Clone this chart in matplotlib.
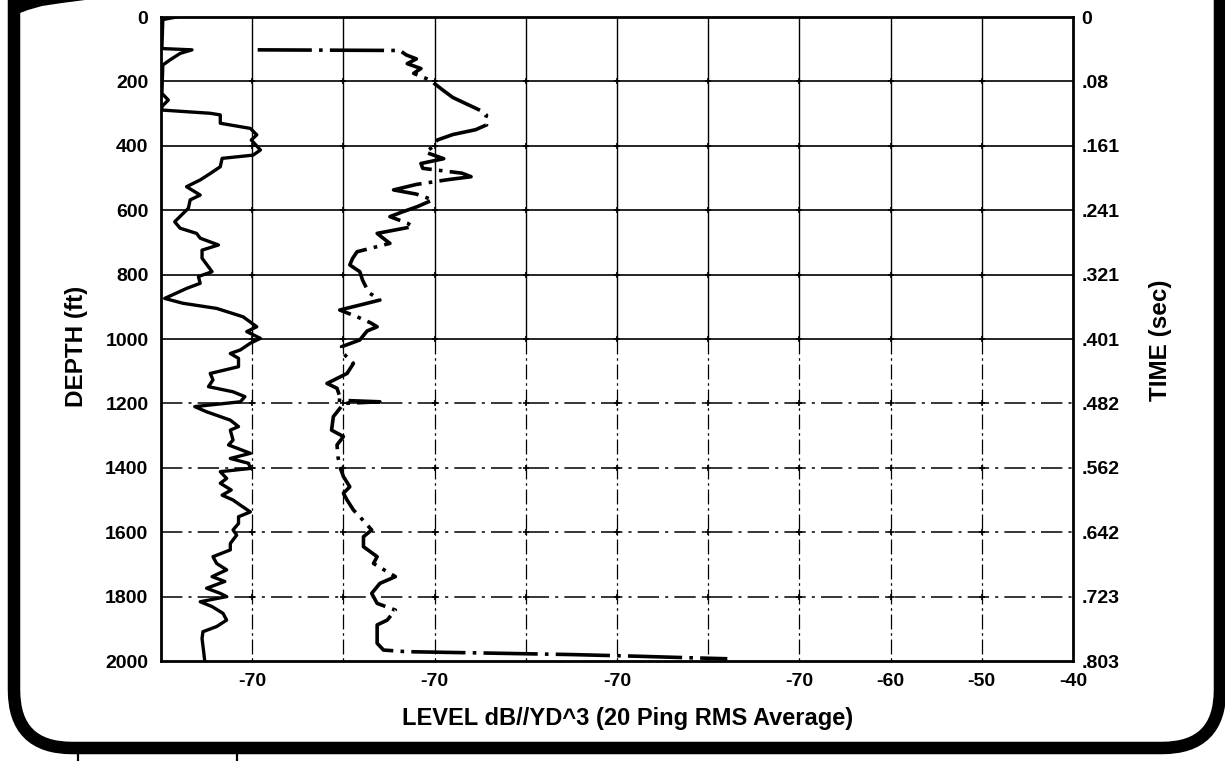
import matplotlib.pyplot as plt
from matplotlib.patches import FancyBboxPatch
import numpy as np

plt.rcParams['font.family'] = ['Liberation Sans', 'DejaVu Sans']
plt.rcParams['font.weight'] = 'bold'

# solid trace (depth ft, level)
solid_depth = [0, 8, 98, 102, 113, 133, 149, 237, 258, 278, 289, 299, 304, 330, 346, 366,
               382, 413, 429, 439, 465, 486, 506, 527, 553, 568, 594, 636, 656, 672, 687,
               708, 724, 749, 791, 806, 827, 843, 874, 889, 905, 931, 962, 977, 998, 1013,
               1034, 1045, 1060, 1086, 1107, 1127, 1148, 1164, 1179, 1195, 1210, 1226, 1252,
               1272, 1283, 1314, 1329, 1355, 1371, 1386, 1402, 1412, 1433, 1448, 1469, 1485,
               1500, 1516, 1537, 1552, 1573, 1593, 1609, 1635, 1655, 1676, 1697, 1717, 1738,
               1753, 1774, 1790, 1800, 1816, 1831, 1852, 1873, 1893, 1909, 1930, 2000]
solid_level = [-138.3, -139.8, -139.9, -136.6, -137.9, -139.0, -139.8, -139.9, -139.2, -139.9,
               -139.9, -134.6, -133.5, -133.5, -130.2, -129.5, -130.1, -129.1, -129.9, -133.3,
               -133.5, -134.6, -135.7, -137.2, -135.7, -136.8, -137.0, -138.5, -137.9, -136.1,
               -135.7, -133.7, -135.5, -135.5, -134.4, -135.9, -135.7, -137.2, -139.6, -137.6,
               -133.9, -131.0, -129.5, -130.6, -129.1, -130.2, -131.3, -132.4, -131.5, -131.5,
               -134.6, -134.3, -134.8, -132.1, -130.8, -131.3, -136.3, -135.0, -132.4, -131.5,
               -132.4, -132.1, -132.6, -130.2, -132.4, -130.4, -130.2, -133.5, -132.8, -133.5,
               -132.3, -133.3, -132.1, -131.3, -130.2, -131.5, -131.5, -132.1, -131.7, -132.4,
               -132.4, -134.3, -133.9, -132.8, -134.4, -133.0, -135.0, -133.5, -132.8, -135.7,
               -134.4, -133.2, -132.8, -133.9, -135.4, -135.5, -135.2]

# dash-dot trace
dash_depth = [102, 104, 118, 130, 145, 160, 175, 196, 227, 250, 270, 290, 305, 320, 335, 350,
              365, 382, 403, 420, 440, 455, 470, 485, 496, 505, 520, 537, 550, 568, 589, 605,
              620, 640, 651, 672, 690, 703, 729, 750, 770, 791, 817, 840, 858, 879, 889, 910,
              931, 950, 962, 975, 1003, 1024, 1045, 1076, 1107, 1138, 1153, 1179, 1190, 1195,
              1200, 1216, 1241, 1283, 1303, 1329, 1365, 1396, 1427, 1459, 1479, 1500, 1531,
              1552, 1593, 1614, 1645, 1676, 1697, 1738, 1759, 1790, 1821, 1842, 1873, 1888,
              1945, 1966, 1971, 1975, 1980, 1985, 1990, 1993]
dash_level = [-129.4, -113.8, -113.1, -112.0, -113.0, -111.5, -112.3, -110.5, -109.1, -108.0,
              -106.5, -105.0, -104.3, -104.5, -104.3, -105.5, -108.0, -109.7, -110.2, -111.0,
              -109.0, -111.5, -111.3, -107.0, -106.0, -108.5, -112.0, -114.5, -112.0, -110.2,
              -111.9, -113.5, -114.9, -113.0, -112.4, -116.3, -115.5, -114.9, -118.5, -119.0,
              -119.3, -118.2, -117.9, -117.5, -117.1, -116.0, -117.4, -120.4, -118.5, -117.0,
              -116.3, -117.4, -118.2, -120.2, -120.0, -118.9, -119.6, -121.8, -120.7, -120.4,
              -120.7, -116.0, -120.0, -120.4, -121.1, -121.3, -120.0, -120.7, -120.6, -120.4,
              -120.0, -119.3, -120.0, -119.6, -118.9, -118.2, -116.9, -117.8, -117.8, -116.3,
              -116.7, -114.3, -116.0, -116.9, -116.3, -114.3, -115.2, -116.3, -116.3, -115.6,
              -113.1, -105.0, -95.0, -88.0, -82.0, -77.9]

x_ticks = [-130, -110, -90, -70, -60, -50, -40]
x_labels = ['-70', '-70', '-70', '-70', '-60', '-50', '-40']
depth_ticks = [0, 200, 400, 600, 800, 1000, 1200, 1400, 1600, 1800, 2000]
time_labels = ['0', '.08', '.161', '.241', '.321', '.401', '.482', '.562', '.642', '.723', '.803']

W, H = 1225, 761
fig = plt.figure(figsize=(W / 100, H / 100), dpi=100)

# page frame (scanned document border)
bg = fig.add_axes([0, 0, 1, 1], zorder=0)
bg.set_xlim(0, W)
bg.set_ylim(H, 0)
bg.axis('off')
bg.add_patch(FancyBboxPatch((14, -120), 1206, 868, boxstyle='round,pad=0,rounding_size=58',
                            fill=False, lw=9, ec='black'))
bg.fill([8, 85, 62, 42, 28, 20, 8], [0, 0, 3, 6, 10, 13, 13], color='black', lw=0)
bg.plot([78, 78], [754, 761], color='black', lw=1.6)
bg.plot([237, 237], [754, 761], color='black', lw=1.6)

ax = fig.add_axes([161 / W, 1 - 661 / H, 912 / W, 644 / H], zorder=1)
ax.patch.set_alpha(0)
ax.set_xlim(-140, -40)
ax.set_ylim(2000, 0)

# grid
for gx in np.arange(-130, -40, 10):
    ax.plot([gx, gx], [0, 1000], color='black', lw=1.0, zorder=1)
    ax.plot([gx, gx], [1000, 2000], color='black', lw=0.9, ls=(0, (12, 3, 2, 3)), zorder=1)
for gy in depth_ticks[1:-1]:
    if gy <= 1000:
        ax.axhline(gy, color='black', lw=1.2, zorder=1)
    else:
        ax.axhline(gy, color='black', lw=1.1, ls=(0, (14, 4, 2, 4)), zorder=1)
gx, gy = np.meshgrid(np.arange(-130, -40, 10), depth_ticks[1:-1])
ax.plot(gx.ravel(), gy.ravel(), '+', color='black', ms=5, mew=1.2, zorder=1)

ax.plot(solid_level, solid_depth, color='black', lw=2.4, zorder=3)
ax.plot(dash_level, dash_depth, color='black', lw=2.6, ls=(0, (15, 2, 1, 2)), zorder=3)

for s in ax.spines.values():
    s.set_linewidth(2.0)
ax.set_xticks(x_ticks)
ax.set_xticklabels(x_labels)
ax.set_yticks(depth_ticks)
ax.tick_params(axis='both', length=0, labelsize=14, pad=9)

ax2 = ax.twinx()
ax2.set_ylim(2000, 0)
ax2.set_yticks(depth_ticks)
ax2.set_yticklabels(time_labels)
ax2.tick_params(axis='y', length=0, labelsize=14, pad=6)
for s in ax2.spines.values():
    s.set_visible(False)

fig.text(77 / W, 1 - 346 / H, 'DEPTH (ft)', rotation=90, ha='center', va='center', fontsize=17.5)
fig.text(1160 / W, 1 - 340 / H, 'TIME (sec)', rotation=90, ha='center', va='center', fontsize=17.5)
fig.text(628 / W, 1 - 719 / H, 'LEVEL dB//YD^3 (20 Ping RMS Average)', ha='center', va='center',
         fontsize=17)

fig.savefig('out.png', dpi=100)
